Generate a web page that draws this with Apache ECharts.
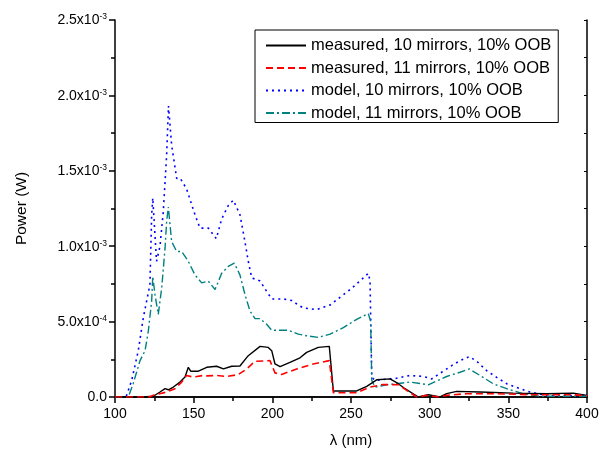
<!DOCTYPE html>
<html><head><meta charset="utf-8">
<script src="https://cdn.jsdelivr.net/npm/echarts@6/dist/echarts.min.js"></script>
<style>html,body{margin:0;padding:0;background:#fff}#c{width:613px;height:453px}</style>
</head><body><div id="c"></div>
<script>
// values in units of 1e-4 W
const seriesNames = ['measured, 10 mirrors, 10% OOB','measured, 11 mirrors, 10% OOB','model, 10 mirrors, 10% OOB','model, 11 mirrors, 10% OOB'];
const meas10_x = [100,117.8,124.4,128.6,131.8,133.9,137.1,141.3,144.5,145.5,146.6,148.1,153,158.3,164.6,168.9,174.2,179.4,184.7,192.2,197.4,199.6,201.7,204.9,211.2,217.6,221.8,229.2,236.2,237.3,238.8,253.6,260,266.3,274.8,280.1,284.3,292.8,299.1,306.6,310.8,317.2,332,353.2,374.4,391.3,400];
const meas10_y = [0,0,0.05,0.33,0.55,0.48,0.66,0.99,1.32,1.45,1.97,1.71,1.71,1.97,2.04,1.86,2.04,2.06,2.74,3.36,3.29,3.07,2.19,2.02,2.3,2.6,2.96,3.29,3.36,3.3,0.4,0.4,0.7,1.14,1.2,0.88,0.55,0,0.15,0,0.22,0.37,0.33,0.26,0.22,0.26,0.11];
const meas11_x = [100,122,124.4,132.8,138.1,142.4,145.5,149.8,156.1,158.3,164.6,171,178.4,183.7,189,198.5,201.7,205.9,215.5,226,236.2,238.8,253.6,262.1,270.5,280.1,285.4,291.7,298,305.5,310.8,323.5,342.6,363.8,391,400];
const meas11_y = [0,0,0.11,0.33,0.55,0.99,1.43,1.32,1.43,1.4,1.43,1.36,1.49,1.86,2.37,2.41,1.6,1.49,1.86,2.19,2.41,0.28,0.28,0.66,0.83,0.81,0.44,0,0.11,0,0.11,0.22,0.22,0.15,0.15,0.08];
const model10_x = [100,107,110.6,114.8,118,120.1,122.2,123.3,124,126.4,128.6,130.7,132.8,134,136,139.2,141.5,145.5,150.8,154,159.3,164.4,167.8,172,175.2,179.4,182.6,184.7,186.9,192.2,196.4,199.6,207,212.3,216.5,219.7,228.2,236.7,244.1,250.4,256.8,261,262.1,263.2,265.3,268.4,274.8,276.9,287.5,296,301.3,307.6,314,319.3,325.2,329.9,336.2,342.6,349,357.4,363.8,374.4,390,400];
const model10_y = [0,0,1.1,3.07,5.26,6.36,7.45,12.06,13.2,9.0,10.0,12.3,16,19.3,16.7,14.5,14.5,13.8,12.1,11.2,11.2,10.5,11.8,12.7,13.05,12.1,10.3,9.0,7.9,7.7,7.0,6.5,6.5,6.4,6.1,5.9,5.8,6.1,6.7,7.2,7.8,8.2,7.7,1.3,1.1,1.14,1.2,1.2,1.43,1.36,1.2,1.64,2.08,2.41,2.68,2.37,1.75,1.3,0.88,0.55,0.33,0.1,0.1,0.1];
const model11_x = [100,108.5,111.6,115.9,119.1,121.2,123.3,124,125.4,127.5,129.7,131.8,132.8,133.9,136,139.2,142.4,146.6,150.8,155.1,159.3,163.6,167.8,172,175.8,179.4,182.6,185.8,189,192.2,196.4,199.6,210.2,216.5,221.8,229.2,236.7,245.1,253.6,261,262.5,263.2,265.3,272.7,279,287.5,299.1,310.8,319.3,325.2,332,340.4,349,359.5,370,400];
const model11_y = [0,0,0.9,2.41,3.07,4.39,6.36,8.0,6.8,5.48,7.24,9.87,11.6,12.6,10.3,9.65,9.65,9.0,8.1,7.57,7.68,7.13,8.2,8.66,8.88,8.1,6.8,5.7,5.2,5.2,4.82,4.43,4.43,4.17,4.06,3.95,4.17,4.6,5.15,5.53,5.0,1.1,0.66,0.81,0.88,0.99,0.81,1.36,1.64,1.86,1.43,0.88,0.55,0.22,0.05,0.05];
const xTicks = [100,150,200,250,300,350,400];
const yTickMant = ['0.0','5.0x10','1.0x10','1.5x10','2.0x10','2.5x10'];
const yTickExp = ['','-4','-3','-3','-3','-3'];

const FONT = '"Liberation Sans", Arial, sans-serif';
function pairs(xs, ys){ return xs.map((x,i)=>[x, ys[i]*1e-4]); }

const chart = echarts.init(document.getElementById('c'), null, {renderer:'canvas'});
const axisLine = {show:true, lineStyle:{color:'#000', width:1.5}};
const option = {
  animation:false,
  backgroundColor:'#fff',
  grid:{left:115, right:26, top:20, bottom:53, show:false},
  legend:{
    orient:'vertical', left:255, top:30,
    padding:[7,7,1,10], itemGap:5.5, itemWidth:40, itemHeight:14,
    borderColor:'#000', borderWidth:1,
    itemStyle:{color:'rgba(0,0,0,0)', borderWidth:0, opacity:0},
    textStyle:{fontFamily:FONT, fontSize:16.5, color:'#000'},
    data: seriesNames
  },
  xAxis:[{
    type:'value', min:100, max:400, interval:50,
    axisLine:axisLine,
    axisTick:{show:true, length:6, lineStyle:{color:'#000', width:1.5}},
    minorTick:{show:true, splitNumber:2, length:4, lineStyle:{color:'#000', width:1.5}},
    splitLine:{show:false},
    axisLabel:{margin:10, fontFamily:FONT, fontSize:14, color:'#000',
      formatter:(v)=> xTicks.includes(v) ? String(v) : ''},
    name:'\u03bb (nm)', nameLocation:'middle', nameGap:36,
    nameTextStyle:{fontFamily:FONT, fontSize:15, color:'#000'}
  },{
    type:'value', position:'top', min:100, max:400, interval:50,
    axisLine:axisLine, axisTick:{show:false}, axisLabel:{show:false}, splitLine:{show:false}
  }],
  yAxis:[{
    type:'value', min:0, max:0.0025, interval:0.0005,
    axisLine:axisLine,
    axisTick:{show:true, length:6, lineStyle:{color:'#000', width:1.5}},
    minorTick:{show:true, splitNumber:2, length:4, lineStyle:{color:'#000', width:1.5}},
    splitLine:{show:false},
    axisLabel:{margin:8,
      formatter:(v, i)=>{ const k = Math.round(v/0.0005); return yTickExp[k] ? '{b|'+yTickMant[k]+'}{s|'+yTickExp[k]+'}' : '{b|'+yTickMant[k]+'}'; },
      rich:{
        b:{fontFamily:FONT, fontSize:14, color:'#000', lineHeight:15, verticalAlign:'bottom'},
        s:{fontFamily:FONT, fontSize:8.5, color:'#000', lineHeight:8, verticalAlign:'top'}
      }
    },
    name:'Power (W)', nameLocation:'middle', nameGap:85,
    nameTextStyle:{fontFamily:FONT, fontSize:15.5, color:'#000'}
  },{
    type:'value', position:'right', min:0, max:0.0025, interval:0.0005,
    axisLine:axisLine,
    axisTick:{show:true, inside:true, length:3, lineStyle:{color:'#000', width:1}},
    minorTick:{show:true, splitNumber:2, length:3, lineStyle:{color:'#000', width:1}},
    axisLabel:{show:false}, splitLine:{show:false}
  }],
  series:[
    {name:seriesNames[2], type:'line', data:pairs(model10_x, model10_y), showSymbol:false, symbol:'none', z:2,
      lineStyle:{color:'#0000ff', width:1.6, type:[2,4]}, itemStyle:{color:'#0000ff'}},
    {name:seriesNames[3], type:'line', data:pairs(model11_x, model11_y), showSymbol:false, symbol:'none', z:2,
      lineStyle:{color:'#008080', width:1.4, type:[8,3,2,3]}, itemStyle:{color:'#008080'}},
    {name:seriesNames[0], type:'line', data:pairs(meas10_x, meas10_y), showSymbol:false, symbol:'none', z:3,
      lineStyle:{color:'#000000', width:1.4, type:'solid'}, itemStyle:{color:'#000000'}},
    {name:seriesNames[1], type:'line', data:pairs(meas11_x, meas11_y), showSymbol:false, symbol:'none', z:3,
      lineStyle:{color:'#ff0000', width:1.6, type:[7,4]}, itemStyle:{color:'#ff0000'}}
  ]
};
chart.setOption(option);
</script>
</body></html>
